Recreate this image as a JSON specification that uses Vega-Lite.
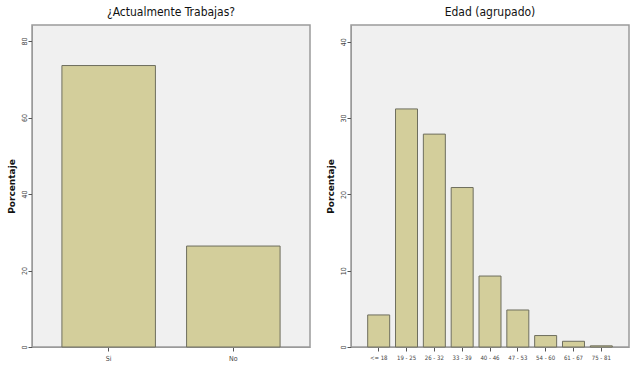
{
  "$schema": "https://vega.github.io/schema/vega-lite/v6.json",
  "background": "white",
  "padding": {"left": 6, "top": 5, "right": 5, "bottom": 5},
  "spacing": 14,
  "config": {
    "view": {"fill": "#f0f0f0", "stroke": "#9a9a9a", "strokeWidth": 1.5},
    "font": "Liberation Sans Narrow, DejaVu Sans Condensed, Liberation Sans, sans-serif",
    "title": {"fontSize": 12, "fontWeight": "normal", "font": "Liberation Sans Narrow, DejaVu Sans Condensed, Liberation Sans, sans-serif", "color": "#111", "offset": 6},
    "axis": {
      "labelFont": "Liberation Sans Narrow, DejaVu Sans Condensed, Liberation Sans, sans-serif",
      "labelFontSize": 7,
      "labelColor": "#444",
      "tickColor": "#555",
      "tickSize": 4,
      "domainColor": "#9a9a9a",
      "grid": false,
      "titleFont": "DejaVu Sans, sans-serif",
      "titleFontWeight": "bold",
      "titleFontSize": 9,
      "titleColor": "#111"
    }
  },
  "datasets": {
    "trabajo": [
      {"respuesta": "Si", "porcentaje": 73.6},
      {"respuesta": "No", "porcentaje": 26.4}
    ],
    "edad": [
      {"grupo": "<= 18", "porcentaje": 4.2},
      {"grupo": "19 - 25", "porcentaje": 31.2},
      {"grupo": "26 - 32", "porcentaje": 27.9},
      {"grupo": "33 - 39", "porcentaje": 20.9},
      {"grupo": "40 - 46", "porcentaje": 9.3},
      {"grupo": "47 - 53", "porcentaje": 4.85},
      {"grupo": "54 - 60", "porcentaje": 1.5},
      {"grupo": "61 - 67", "porcentaje": 0.75},
      {"grupo": "75 - 81", "porcentaje": 0.15}
    ]
  },
  "hconcat": [
    {
      "title": "¿Actualmente Trabajas?",
      "width": 278,
      "height": 322,
      "data": {"name": "trabajo"},
      "mark": {"type": "bar", "fill": "#d3ce9b", "stroke": "#6e6e5e", "strokeWidth": 1},
      "encoding": {
        "x": {
          "field": "respuesta", "type": "nominal", "sort": ["Si", "No"],
          "scale": {"paddingInner": 0.25, "paddingOuter": 0.24},
          "axis": {"title": null, "labelAngle": 0, "labelPadding": 3}
        },
        "y": {
          "field": "porcentaje", "type": "quantitative",
          "scale": {"domain": [0, 84.2], "nice": false},
          "axis": {"title": "Porcentaje", "values": [0, 20, 40, 60, 80], "labelAngle": -90, "labelAlign": "center", "labelBaseline": "bottom", "labelPadding": 1, "titlePadding": 4}
        }
      }
    },
    {
      "title": "Edad (agrupado)",
      "width": 278,
      "height": 322,
      "data": {"name": "edad"},
      "mark": {"type": "bar", "fill": "#d3ce9b", "stroke": "#6e6e5e", "strokeWidth": 1},
      "encoding": {
        "x": {
          "field": "grupo", "type": "nominal",
          "sort": ["<= 18", "19 - 25", "26 - 32", "33 - 39", "40 - 46", "47 - 53", "54 - 60", "61 - 67", "75 - 81"],
          "scale": {"paddingInner": 0.21, "paddingOuter": 0.6},
          "axis": {"title": null, "labelAngle": 0, "labelPadding": 3, "labelFontSize": 6}
        },
        "y": {
          "field": "porcentaje", "type": "quantitative",
          "scale": {"domain": [0, 42.2], "nice": false},
          "axis": {"title": "Porcentaje", "values": [0, 10, 20, 30, 40], "labelAngle": -90, "labelAlign": "center", "labelBaseline": "bottom", "labelPadding": 1, "titlePadding": 4}
        }
      }
    }
  ]
}
